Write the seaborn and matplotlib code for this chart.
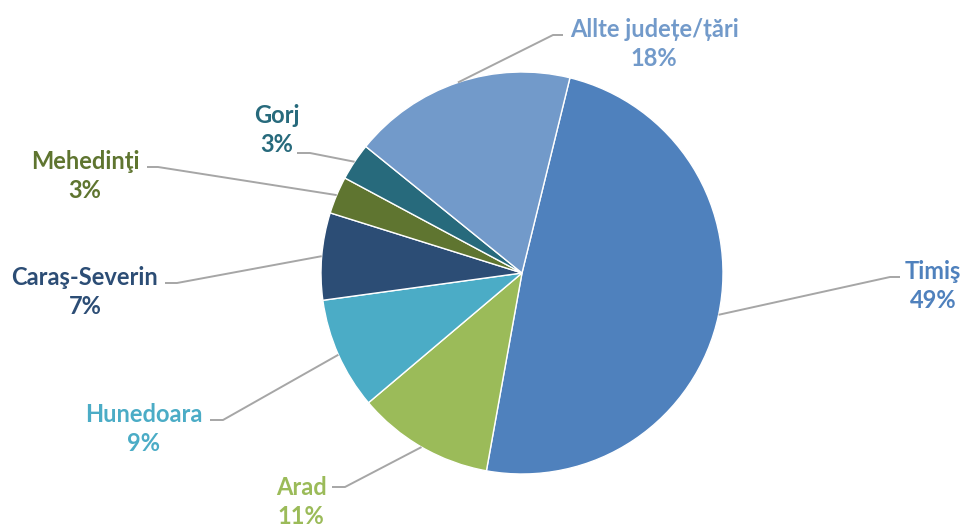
import numpy as np
import matplotlib
matplotlib.use("Agg")
import matplotlib.pyplot as plt
import seaborn as sns

# data, clockwise from the first slice
judete = ['Timiş', 'Arad', 'Hunedoara', 'Caraş-Severin', 'Mehedinţi', 'Gorj', 'Allte județe/țări']
procente = [49, 11, 9, 7, 3, 3, 18]
culori = ['#4F81BD', '#9BBB59', '#4BACC6', '#2C4D75', '#5F7530', '#276A7C', '#729ACA']

# label placement (pixels, y from top): text centre, elbow of leader line, end of short tick
text_pos = [(933, 286), (301, 502), (144, 429), (85, 292), (85, 176), (277, 130), (654, 44)]
elbow_pos = [(890, 277), (345, 487), (223, 420), (177, 283), (158, 167), (310, 153), (553, 35)]
tick_end = [(900, 277), (332, 487), (210, 420), (165, 283), (147, 167), (297, 153), (563, 35)]

W, H = 965, 528
cx, cy, R = 522, 273, 201

sns.set_theme(style='white')
plt.rcParams['font.family'] = ['Lato', 'DejaVu Sans']

fig = plt.figure(figsize=(W / 100, H / 100), dpi=100)
ax = fig.add_axes([0, 0, 1, 1])

wedges, _ = ax.pie(procente, colors=culori, startangle=90 - 13.8, counterclock=False,
                   center=(cx, H - cy), radius=R, frame=True,
                   wedgeprops=dict(edgecolor='white', linewidth=1))

for i, w in enumerate(wedges):
    ang = np.deg2rad((w.theta1 + w.theta2) / 2)
    x0 = cx + R * np.cos(ang)
    y0 = (H - cy) + R * np.sin(ang)
    ex, ey = elbow_pos[i]
    tx, ty = tick_end[i]
    ax.plot([x0, ex, tx], [y0, H - ey, H - ty], color='#A6A6A6', lw=1.4,
            solid_capstyle='butt', zorder=1)
    px, py = text_pos[i]
    ax.text(px, H - py, f'{judete[i]}\n{procente[i]}%', ha='center', va='center',
            fontsize=17, fontweight='bold', color=culori[i], linespacing=1.3)

ax.set_xlim(0, W)
ax.set_ylim(0, H)
ax.set_aspect('equal')
ax.axis('off')

fig.savefig('out.png', dpi=100)
